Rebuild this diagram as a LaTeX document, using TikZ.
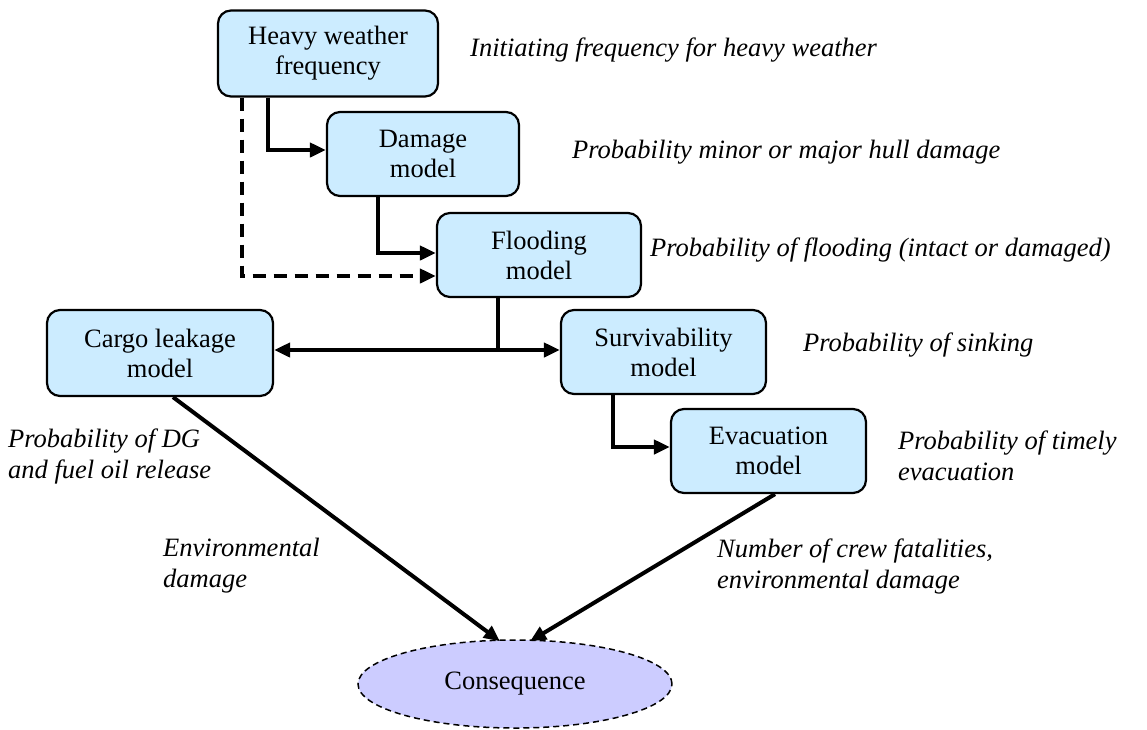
\documentclass[tikz,border=0pt]{standalone}
\usepackage{fontspec}
\setmainfont{Liberation Serif}
\usetikzlibrary{arrows.meta,shapes.geometric}
\definecolor{boxfill}{HTML}{CCECFF}
\definecolor{consfill}{HTML}{CCCCFF}
\begin{document}
\begin{tikzpicture}[x=1pt,y=-1pt,
  font=\fontsize{26.5}{30}\selectfont,
  model/.style={draw, line width=2.2pt, rounded corners=13pt, fill=boxfill,
    align=center, inner sep=0pt},
  note/.style={anchor=west, align=left, inner sep=0pt, font=\fontsize{26.5}{31}\selectfont\itshape},
  tip/.style={Triangle[length=16pt,width=14pt]},
  flow/.style={line width=4pt, -{Triangle[length=16pt,width=14pt]}},
  dashflow/.style={flow, dash pattern=on 13pt off 8pt},
  both/.style={line width=4pt, {Triangle[length=16pt,width=14pt]}-{Triangle[length=16pt,width=14pt]}}
]
\useasboundingbox (0,0) rectangle (1147,729);

% model boxes
\node[model, minimum width=220pt, minimum height=86pt] (heavy) at (328,53.5) {Heavy weather\\frequency};
\node[model, minimum width=192pt, minimum height=84pt] (damage) at (423,154) {Damage\\model};
\node[model, minimum width=204pt, minimum height=84pt] (flood) at (539,255) {Flooding\\model};
\node[model, minimum width=226pt, minimum height=86pt] (cargo) at (160,353) {Cargo leakage\\model};
\node[model, minimum width=205pt, minimum height=84pt] (surv) at (663.5,352) {Survivability\\model};
\node[model, minimum width=195pt, minimum height=84pt] (evac) at (768.5,451) {Evacuation\\model};

% end state
\node[ellipse, draw, line width=1.5pt, dash pattern=on 6pt off 4pt, fill=consfill,
  minimum width=314pt, minimum height=88pt, inner sep=0pt] (cons) at (515,684) {Consequence};

% descriptions
\node[note] (n1) at (470,50) {Initiating frequency for heavy weather};
\node[note] (n2) at (572,152) {Probability minor or major hull damage};
\node[note] (n3) at (650,250) {Probability of flooding (intact or damaged)};
\node[note] (n4) at (803,345) {Probability of sinking};
\node[note] (n5) at (898,456) {Probability of timely\\evacuation};
\node[note] (n6) at (8,456) {Probability of DG\\and fuel oil release};
\node[note] (n7) at (163,566) {Environmental\\damage};
\node[note] (n8) at (717,566) {Number of crew fatalities,\\environmental damage};

% connectors
\draw[flow] ([xshift=-60pt]heavy.south) |- ([yshift=4pt]damage.west);
\draw[dashflow] ([xshift=-86pt]heavy.south) |- ([yshift=-21pt]flood.west);
\draw[flow] ([xshift=-45pt]damage.south) |- ([yshift=2pt]flood.west);
\coordinate (split) at (498,350);
\draw[line width=4pt] (flood.south -| split) -- (split);
\draw[both] (split -| cargo.east) -- (split -| surv.west);
\draw[flow] ([xshift=-50.5pt]surv.south) |- ([yshift=4pt]evac.west);
\draw[flow] ([xshift=13pt]cargo.south) -- ([xshift=-15pt,yshift=-2pt]cons.north);
\draw[flow] ([xshift=6.5pt]evac.south) -- ([xshift=15pt,yshift=-2pt]cons.north);
\end{tikzpicture}
\end{document}
